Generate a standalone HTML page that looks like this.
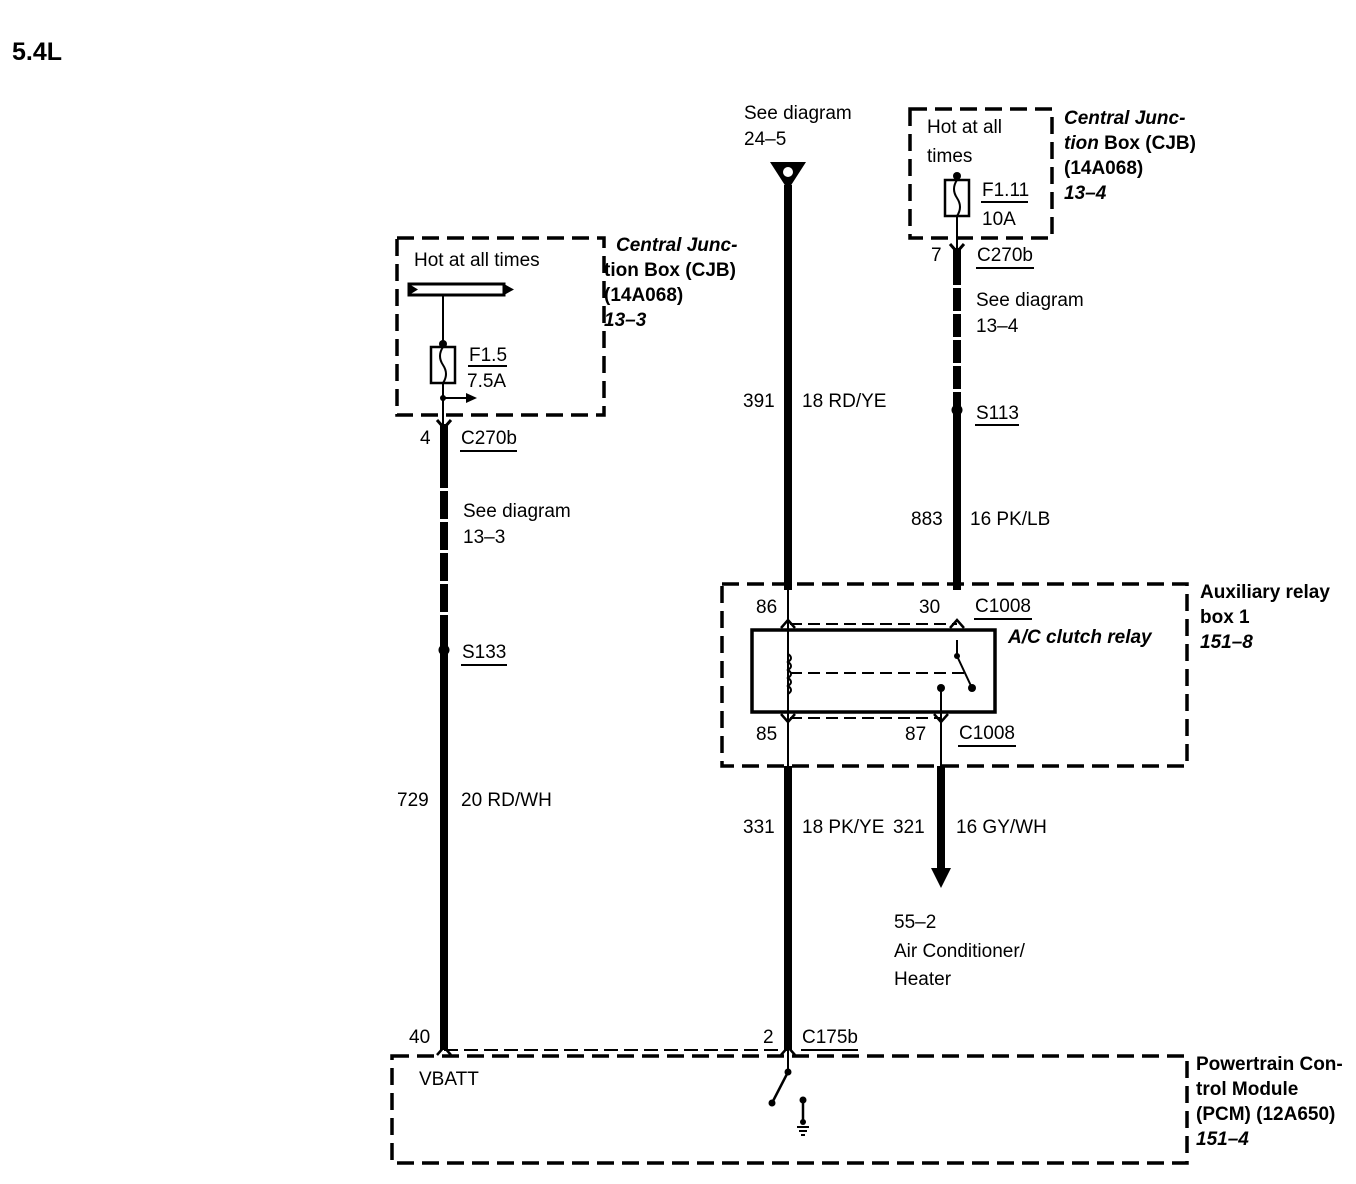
<!DOCTYPE html>
<html><head><meta charset="utf-8"><style>
html,body{margin:0;padding:0;background:#fff;}
svg{display:block;}
text{font-family:"Liberation Sans",Arial,sans-serif;fill:#000;}
.l{font-size:19px;}
.b{font-size:19px;font-weight:bold;}
.bi{font-size:19px;font-weight:bold;font-style:italic;}
</style></head><body>
<svg width="1356" height="1184" viewBox="0 0 1356 1184" xmlns="http://www.w3.org/2000/svg">
<text x="12" y="60" style="font-size:25px;font-weight:bold">5.4L</text>

<!-- dashed boxes -->
<g fill="none" stroke="#000" stroke-width="3.5" stroke-dasharray="17,8">
<rect x="397" y="238" width="207" height="177"/>
<rect x="910" y="109" width="142" height="129"/>
<rect x="722" y="584" width="465" height="182"/>
<rect x="392" y="1056" width="795" height="107"/>
</g>

<!-- Left CJB -->
<text class="l" x="414" y="266">Hot at all times</text>
<rect x="409" y="284" width="95" height="11" fill="#fff" stroke="#000" stroke-width="3"/>
<polygon points="409,284 418,289.5 409,295" fill="#000"/>
<polygon points="504,284 514,289.5 504,295" fill="#000"/>
<line x1="443" y1="295" x2="443" y2="345" stroke="#000" stroke-width="2"/>
<circle cx="443" cy="344" r="4" fill="#000"/>
<rect x="431" y="347" width="24" height="36" fill="none" stroke="#000" stroke-width="2.5"/>
<path d="M443,347 q-6,9 0,18 q6,9 0,18" fill="none" stroke="#000" stroke-width="2"/>
<text class="l" x="469" y="361">F1.5</text>
<line x1="468" y1="366" x2="507" y2="366" stroke="#000" stroke-width="2"/>
<text class="l" x="467" y="387">7.5A</text>
<line x1="443" y1="383" x2="443" y2="425" stroke="#000" stroke-width="2"/>
<circle cx="443" cy="398" r="3" fill="#000"/>
<line x1="443" y1="398" x2="468" y2="398" stroke="#000" stroke-width="2"/>
<polygon points="466,393 477,398 466,403" fill="#000"/>
<text class="bi" x="616" y="251">Central Junc-</text>
<text class="b" x="604" y="276">tion Box (CJB)</text>
<text class="b" x="604" y="301">(14A068)</text>
<text class="bi" x="604" y="326">13–3</text>

<!-- left wire -->
<path d="M437,420 L444,428 L451,420" fill="none" stroke="#000" stroke-width="3"/>
<line x1="444" y1="424" x2="444" y2="460" stroke="#000" stroke-width="8"/>
<line x1="444" y1="460" x2="444" y2="620" stroke="#000" stroke-width="8" stroke-dasharray="28,3"/>
<line x1="444" y1="620" x2="444" y2="1050" stroke="#000" stroke-width="8"/>
<circle cx="444" cy="650" r="5.5" fill="#000"/>
<text class="l" x="420" y="444">4</text>
<text class="l" x="461" y="444">C270b</text>
<line x1="460" y1="451" x2="517" y2="451" stroke="#000" stroke-width="2"/>
<text class="l" x="463" y="517">See diagram</text>
<text class="l" x="463" y="543">13–3</text>
<text class="l" x="462" y="658">S133</text>
<line x1="461" y1="665" x2="507" y2="665" stroke="#000" stroke-width="2"/>
<text class="l" x="397" y="806">729</text>
<text class="l" x="461" y="806">20 RD/WH</text>
<text class="l" x="409" y="1043">40</text>

<!-- middle wire -->
<text class="l" x="744" y="119">See diagram</text>
<text class="l" x="744" y="145">24–5</text>
<polygon points="770,162 806,162 788,190" fill="#000"/>
<circle cx="788" cy="172" r="5" fill="#fff"/>
<line x1="788" y1="185" x2="788" y2="590" stroke="#000" stroke-width="8"/>
<text class="l" x="743" y="407">391</text>
<text class="l" x="802" y="407">18 RD/YE</text>
<line x1="788" y1="590" x2="788" y2="766" stroke="#000" stroke-width="2"/>
<line x1="788" y1="766" x2="788" y2="1050" stroke="#000" stroke-width="8"/>
<text class="l" x="743" y="833">331</text>
<text class="l" x="802" y="833">18 PK/YE</text>
<text class="l" x="763" y="1043">2</text>
<text class="l" x="802" y="1043">C175b</text>
<line x1="801" y1="1050" x2="858" y2="1050" stroke="#000" stroke-width="2"/>

<!-- right CJB -->
<text class="l" x="927" y="133">Hot at all</text>
<text class="l" x="927" y="162">times</text>
<circle cx="957" cy="176" r="4" fill="#000"/>
<rect x="945" y="180" width="24" height="36" fill="none" stroke="#000" stroke-width="2.5"/>
<path d="M957,180 q-6,9 0,18 q6,9 0,18" fill="none" stroke="#000" stroke-width="2"/>
<text class="l" x="982" y="196">F1.11</text>
<line x1="981" y1="202" x2="1028" y2="202" stroke="#000" stroke-width="2"/>
<text class="l" x="982" y="225">10A</text>
<line x1="957" y1="216" x2="957" y2="250" stroke="#000" stroke-width="2"/>
<text class="bi" x="1064" y="124">Central Junc-</text>
<text class="bi" x="1064" y="149">tion <tspan font-style="normal">Box (CJB)</tspan></text>
<text class="b" x="1064" y="174">(14A068)</text>
<text class="bi" x="1064" y="199">13–4</text>
<path d="M950,244 L957,252 L964,244" fill="none" stroke="#000" stroke-width="3"/>
<line x1="957" y1="248" x2="957" y2="262" stroke="#000" stroke-width="8"/>
<line x1="957" y1="262" x2="957" y2="392" stroke="#000" stroke-width="8" stroke-dasharray="23,3"/>
<line x1="957" y1="392" x2="957" y2="590" stroke="#000" stroke-width="8"/>
<circle cx="957" cy="410" r="5.5" fill="#000"/>
<text class="l" x="931" y="261">7</text>
<text class="l" x="977" y="261">C270b</text>
<line x1="976" y1="268" x2="1034" y2="268" stroke="#000" stroke-width="2"/>
<text class="l" x="976" y="306">See diagram</text>
<text class="l" x="976" y="332">13–4</text>
<text class="l" x="976" y="419">S113</text>
<line x1="975" y1="425" x2="1019" y2="425" stroke="#000" stroke-width="2"/>
<text class="l" x="911" y="525">883</text>
<text class="l" x="970" y="525">16 PK/LB</text>

<!-- relay box -->
<text class="l" x="756" y="613">86</text>
<text class="l" x="919" y="613">30</text>
<text class="l" x="975" y="612">C1008</text>
<line x1="974" y1="619" x2="1032" y2="619" stroke="#000" stroke-width="2"/>
<text class="bi" x="1008" y="643">A/C clutch relay</text>
<text class="b" x="1200" y="598">Auxiliary relay</text>
<text class="b" x="1200" y="623">box 1</text>
<text class="bi" x="1200" y="648">151–8</text>
<line x1="790" y1="624" x2="957" y2="624" stroke="#000" stroke-width="2" stroke-dasharray="12,6"/>
<path d="M781,628 L788,620 L795,628" fill="none" stroke="#000" stroke-width="2.5"/>
<path d="M950,628 L957,620 L964,628" fill="none" stroke="#000" stroke-width="2.5"/>
<rect x="752" y="630" width="243" height="82" fill="none" stroke="#000" stroke-width="3.5"/>
<path d="M788,654 q6,4 0,8 q6,4 0,8 q6,4 0,8 q6,4 0,8 q6,4 0,8" fill="none" stroke="#000" stroke-width="2"/>
<line x1="790" y1="673" x2="965" y2="673" stroke="#000" stroke-width="2" stroke-dasharray="12,6"/>
<line x1="957" y1="640" x2="957" y2="656" stroke="#000" stroke-width="2"/>
<line x1="957" y1="656" x2="972" y2="688" stroke="#000" stroke-width="2"/>
<circle cx="957" cy="656" r="3" fill="#000"/>
<circle cx="972" cy="688" r="4" fill="#000"/>
<circle cx="941" cy="688" r="4" fill="#000"/>
<line x1="941" y1="688" x2="941" y2="766" stroke="#000" stroke-width="2"/>
<line x1="790" y1="718" x2="941" y2="718" stroke="#000" stroke-width="2" stroke-dasharray="12,6"/>
<path d="M781,714 L788,722 L795,714" fill="none" stroke="#000" stroke-width="2.5"/>
<path d="M934,714 L941,722 L948,714" fill="none" stroke="#000" stroke-width="2.5"/>
<text class="l" x="756" y="740">85</text>
<text class="l" x="905" y="740">87</text>
<text class="l" x="959" y="739">C1008</text>
<line x1="958" y1="746" x2="1016" y2="746" stroke="#000" stroke-width="2"/>

<!-- 321 wire -->
<line x1="941" y1="766" x2="941" y2="872" stroke="#000" stroke-width="8"/>
<polygon points="931,868 951,868 941,888" fill="#000"/>
<text class="l" x="893" y="833">321</text>
<text class="l" x="956" y="833">16 GY/WH</text>
<text class="l" x="894" y="928">55–2</text>
<text class="l" x="894" y="957">Air Conditioner/</text>
<text class="l" x="894" y="985">Heater</text>

<!-- PCM -->
<line x1="444" y1="1050" x2="788" y2="1050" stroke="#000" stroke-width="2" stroke-dasharray="14,6"/>
<path d="M437,1055 L444,1047 L451,1055" fill="none" stroke="#000" stroke-width="2.5"/>
<path d="M781,1055 L788,1047 L795,1055" fill="none" stroke="#000" stroke-width="2.5"/>
<text class="l" x="419" y="1085">VBATT</text>
<line x1="788" y1="1050" x2="788" y2="1072" stroke="#000" stroke-width="2"/>
<line x1="788" y1="1072" x2="772" y2="1103" stroke="#000" stroke-width="2.5"/>
<circle cx="788" cy="1072" r="3.5" fill="#000"/>
<circle cx="772" cy="1103" r="3.5" fill="#000"/>
<circle cx="803" cy="1100" r="3.5" fill="#000"/>
<line x1="803" y1="1100" x2="803" y2="1124" stroke="#000" stroke-width="2.5"/>
<circle cx="803" cy="1122" r="3" fill="#000"/>
<line x1="797" y1="1127" x2="809" y2="1127" stroke="#000" stroke-width="2"/>
<line x1="799" y1="1131" x2="807" y2="1131" stroke="#000" stroke-width="2"/>
<line x1="801" y1="1135" x2="805" y2="1135" stroke="#000" stroke-width="2"/>
<text class="b" x="1196" y="1070">Powertrain Con-</text>
<text class="b" x="1196" y="1095">trol Module</text>
<text class="b" x="1196" y="1120">(PCM) (12A650)</text>
<text class="bi" x="1196" y="1145">151–4</text>
</svg>
</body></html>
